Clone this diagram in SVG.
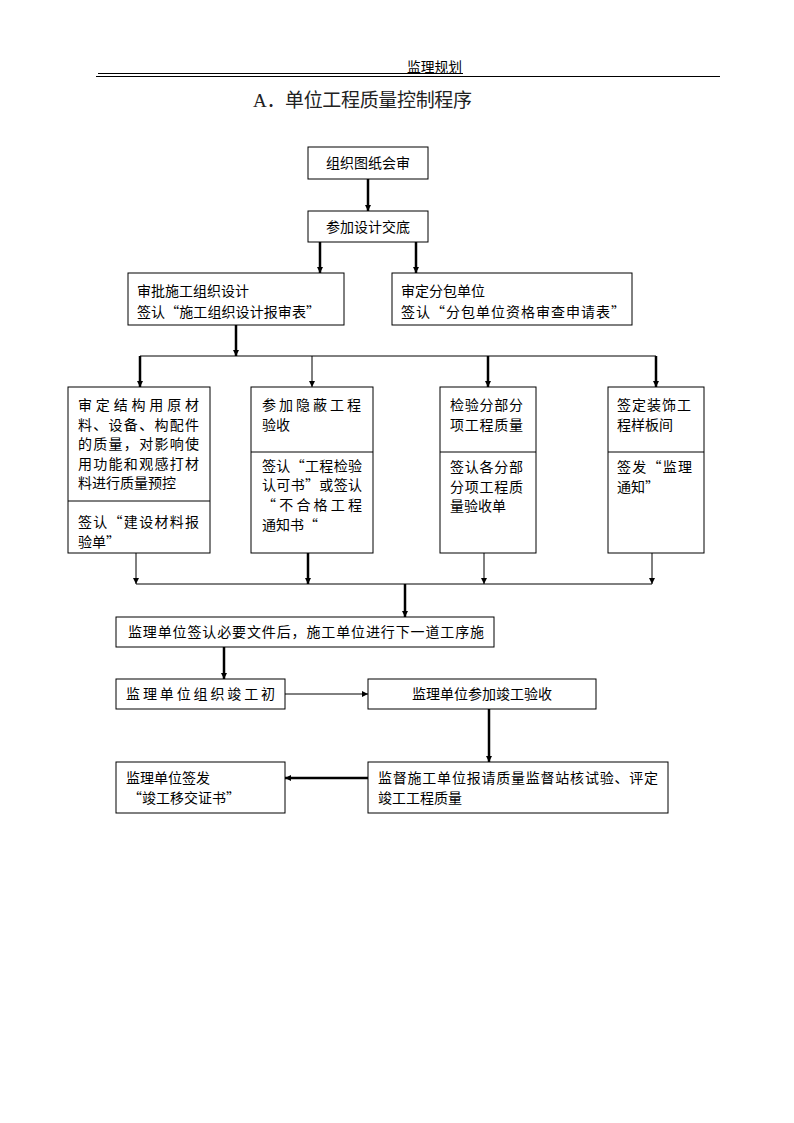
<svg xmlns="http://www.w3.org/2000/svg" width="794" height="1123" viewBox="0 0 794 1123">
<style>
.t{font-family:"Noto Sans CJK SC","Liberation Sans",sans-serif;font-size:14px;fill:#000}
.box{fill:#fff;stroke:#000;stroke-width:1}
.thin{stroke:#000;stroke-width:1;fill:none}
.thick{stroke:#000;stroke-width:2.5;fill:none}
</style>
<defs>
<marker id="ah" viewBox="0 0 6 6" refX="6" refY="3" markerWidth="6" markerHeight="6" markerUnits="userSpaceOnUse" orient="auto">
<path d="M0,0 L6,3 L0,6 z" fill="#000"/>
</marker>
</defs>
<rect width="794" height="1123" fill="#fff"/>
<g id="header">
<text x="407" y="72" style="font-family:'Noto Sans CJK SC',sans-serif;font-size:13.5px" textLength="55" lengthAdjust="spacingAndGlyphs">监理规划</text>
<line x1="98" y1="73.5" x2="463" y2="73.5" class="thin"/>
<line x1="96" y1="76.5" x2="720" y2="76.5" class="thin"/>
</g>
<g id="title">
<text x="253" y="107" style="font-family:'Liberation Serif','Noto Sans CJK SC',serif;font-size:19px;fill:#222" textLength="219" lengthAdjust="spacing">A．单位工程质量控制程序</text>
</g>
<g id="connectors">
<line x1="368" y1="179" x2="368" y2="211" class="thick" marker-end="url(#ah)"/>
<line x1="320" y1="242" x2="320" y2="273" class="thick" marker-end="url(#ah)"/>
<line x1="416" y1="242" x2="416" y2="273" class="thick" marker-end="url(#ah)"/>
<line x1="236" y1="325" x2="236" y2="356" class="thick" marker-end="url(#ah)"/>
<line x1="140" y1="356" x2="656" y2="356" class="thin"/>
<line x1="140" y1="356" x2="140" y2="387" class="thick" marker-end="url(#ah)"/>
<line x1="312" y1="356" x2="312" y2="387" class="thin" marker-end="url(#ah)"/>
<line x1="488" y1="356" x2="488" y2="387" class="thick" marker-end="url(#ah)"/>
<line x1="656" y1="356" x2="656" y2="387" class="thick" marker-end="url(#ah)"/>
<line x1="136" y1="553" x2="136" y2="584" class="thin" marker-end="url(#ah)"/>
<line x1="308" y1="553" x2="308" y2="584" class="thick" marker-end="url(#ah)"/>
<line x1="484" y1="553" x2="484" y2="584" class="thin" marker-end="url(#ah)"/>
<line x1="652" y1="553" x2="652" y2="584" class="thin" marker-end="url(#ah)"/>
<line x1="136" y1="584" x2="652" y2="584" class="thin"/>
<line x1="405" y1="584" x2="405" y2="617" class="thick" marker-end="url(#ah)"/>
<line x1="224" y1="647" x2="224" y2="679" class="thick" marker-end="url(#ah)"/>
<line x1="285" y1="694" x2="368" y2="694" class="thin" marker-end="url(#ah)"/>
<line x1="489" y1="709" x2="489" y2="762" class="thick" marker-end="url(#ah)"/>
<line x1="368" y1="778" x2="285" y2="778" class="thick" marker-end="url(#ah)"/>
</g>
<g id="n1">
<rect x="308" y="147" width="120" height="32" class="box"/>
<text x="368" y="168" class="t" text-anchor="middle">组织图纸会审</text>
</g>
<g id="n2">
<rect x="308" y="211" width="120" height="31" class="box"/>
<text x="368" y="232" class="t" text-anchor="middle">参加设计交底</text>
</g>
<g id="n3">
<rect x="128" y="273" width="216" height="52" class="box"/>
<text x="137" y="296" class="t">审批施工组织设计</text>
<text x="137" y="317" class="t" textLength="183" lengthAdjust="spacing">签认“施工组织设计报审表”</text>
</g>
<g id="n4">
<rect x="392" y="273" width="240" height="52" class="box"/>
<text x="401" y="296" class="t">审定分包单位</text>
<text x="401" y="317" class="t" textLength="224" lengthAdjust="spacing">签认“分包单位资格审查申请表”</text>
</g>
<g id="n5">
<rect x="68" y="387" width="142" height="166" class="box"/>
<line x1="68" y1="501" x2="210" y2="501" class="thin"/>
<text x="78" y="410" class="t" textLength="121" lengthAdjust="spacing">审定结构用原材</text>
<text x="78" y="430" class="t" textLength="121" lengthAdjust="spacing">料、设备、构配件</text>
<text x="78" y="449" class="t" textLength="121" lengthAdjust="spacing">的质量，对影响使</text>
<text x="78" y="469" class="t" textLength="121" lengthAdjust="spacing">用功能和观感打材</text>
<text x="78" y="488" class="t">料进行质量预控</text>
<text x="78" y="527" class="t" textLength="121" lengthAdjust="spacing">签认“建设材料报</text>
<text x="78" y="547" class="t">验单”</text>
</g>
<g id="n6">
<rect x="251" y="387" width="122" height="166" class="box"/>
<line x1="251" y1="452" x2="373" y2="452" class="thin"/>
<text x="262" y="410" class="t" textLength="99" lengthAdjust="spacing">参加隐蔽工程</text>
<text x="262" y="430" class="t">验收</text>
<text x="262" y="471" class="t" textLength="100" lengthAdjust="spacing">签认“工程检验</text>
<text x="262" y="490" class="t" textLength="100" lengthAdjust="spacing">认可书”或签认</text>
<text x="262" y="510" class="t" textLength="100" lengthAdjust="spacing">“不合格工程</text>
<text x="262" y="530" class="t">通知书“</text>
</g>
<g id="n7">
<rect x="440" y="387" width="96" height="166" class="box"/>
<line x1="440" y1="452" x2="536" y2="452" class="thin"/>
<text x="450" y="410" class="t" textLength="73" lengthAdjust="spacing">检验分部分</text>
<text x="450" y="430" class="t" textLength="73" lengthAdjust="spacing">项工程质量</text>
<text x="450" y="472" class="t" textLength="73" lengthAdjust="spacing">签认各分部</text>
<text x="450" y="492" class="t" textLength="73" lengthAdjust="spacing">分项工程质</text>
<text x="450" y="511" class="t">量验收单</text>
</g>
<g id="n8">
<rect x="608" y="387" width="96" height="166" class="box"/>
<line x1="608" y1="452" x2="704" y2="452" class="thin"/>
<text x="617" y="410" class="t" textLength="74" lengthAdjust="spacing">签定装饰工</text>
<text x="617" y="430" class="t">程样板间</text>
<text x="617" y="472" class="t" textLength="75" lengthAdjust="spacing">签发“监理</text>
<text x="617" y="492" class="t">通知”</text>
</g>
<g id="n9">
<rect x="116" y="617" width="378" height="30" class="box"/>
<text x="128" y="637" class="t" textLength="356" lengthAdjust="spacing">监理单位签认必要文件后，施工单位进行下一道工序施</text>
</g>
<g id="n10">
<rect x="116" y="679" width="169" height="30" class="box"/>
<text x="126" y="699" class="t" textLength="149" lengthAdjust="spacing">监理单位组织竣工初</text>
</g>
<g id="n11">
<rect x="368" y="679" width="228" height="30" class="box"/>
<text x="482" y="699" class="t" text-anchor="middle">监理单位参加竣工验收</text>
</g>
<g id="n12">
<rect x="368" y="762" width="300" height="51" class="box"/>
<text x="378" y="783" class="t" textLength="280" lengthAdjust="spacing">监督施工单位报请质量监督站核试验、评定</text>
<text x="378" y="803" class="t">竣工工程质量</text>
</g>
<g id="n13">
<rect x="116" y="762" width="169" height="51" class="box"/>
<text x="126" y="783" class="t">监理单位签发</text>
<text x="128" y="803" class="t">“竣工移交证书”</text>
</g>
</svg>
